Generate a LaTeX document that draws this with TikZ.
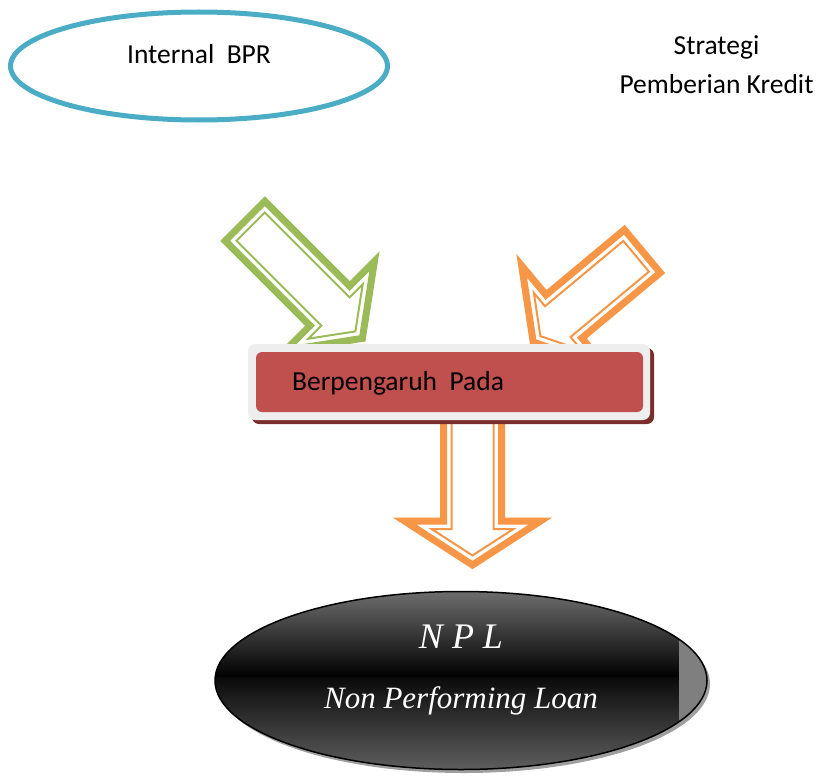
\documentclass[tikz,border=0pt]{standalone}
\usepackage{fontspec}
\setmainfont{Carlito}
\newfontfamily\timesf{Liberation Serif}
\usetikzlibrary{shapes.geometric}
\definecolor{tealc}{HTML}{4BACC6}
\definecolor{greenc}{HTML}{9BBB59}
\definecolor{orangec}{HTML}{F79646}
\definecolor{redc}{HTML}{C0504D}
\definecolor{shadowred}{HTML}{7A2E2C}
\definecolor{boxgray}{HTML}{EEEEEE}
\definecolor{nplTop}{HTML}{6E6E6E}
\definecolor{nplMid}{HTML}{0A0A0A}
\definecolor{nplBot}{HTML}{5E5E5E}
\definecolor{nplStrip}{HTML}{7F7F7F}
\newcommand\blkarrow[7]{%
 \begin{scope}[shift={#1},rotate=#2]
  \pgfmathsetmacro\arrTan{#5/#6}
  \pgfmathsetmacro\arrSin{sin(atan(#5/#6))}
  \pgfmathsetmacro\arrTip{#3-8/\arrSin}
  \pgfmathsetmacro\arrBase{#3-#6+8}
  \pgfmathsetmacro\arrHi{(\arrTip-\arrBase)*\arrTan}
  \pgfmathsetmacro\arrWi{#4-8}
  \draw[line width=7,#7,fill=white,line join=miter] (0,-#4) -- (#3-#6,-#4) -- (#3-#6,-#5) -- (#3,0) -- (#3-#6,#5) -- (#3-#6,#4) -- (0,#4) -- cycle;
  \draw[line width=2,#7,line join=miter] (8,-\arrWi) -- (\arrBase,-\arrWi) -- (\arrBase,-\arrHi) -- (\arrTip,0) -- (\arrBase,\arrHi) -- (\arrBase,\arrWi) -- (8,\arrWi) -- cycle;
 \end{scope}}
\tikzset{
  calfont/.style={font=\fontsize{27.5}{33}\selectfont},
  npltext/.style={text=white, anchor=base}
}
\begin{document}
\begin{tikzpicture}[x=1pt,y=-1pt]
\useasboundingbox (0,0) rectangle (817,776);
% Internal BPR ellipse
\node[ellipse, draw=tealc, line width=5, minimum width=377, minimum height=108, inner sep=0] (internal) at (199,66) {};
\node[calfont, anchor=base] (inttxt) at (199,64) {Internal\ \ BPR};
% Strategi text
\node[calfont, anchor=base] (strat1) at (716.5,55) {Strategi};
\node[calfont, anchor=base] (strat2) at (716.5,93) {Pemberian Kredit};
% arrows
\blkarrow{(245,221)}{-45}{166}{28}{63}{46}{greenc}
\blkarrow{(642.3,251.2)}{-140.2}{142}{28}{66}{40}{orangec}
\blkarrow{(472.5,410)}{-90}{155}{29}{68}{44}{orangec}
% box
\fill[shadowred, rounded corners=7] (252,348) rectangle (654,424);
\node[fill=boxgray, rounded corners=7, minimum width=402, minimum height=76, inner sep=0] (boxout) at (449,382) {};
\node[fill=redc, rounded corners=6, minimum width=387, minimum height=60, inner sep=0] (box) at (449.5,382) {};
\node[calfont, anchor=base west, inner sep=0] (boxtxt) at (292,390) {Berpengaruh\ \ Pada};
% NPL ellipse
\fill[gray!75] (464,684) ellipse [x radius=246, y radius=89];
\begin{scope}
\clip (461,680.5) ellipse [x radius=246, y radius=89];
\shade[top color=nplTop, bottom color=black] (214,591) rectangle (708,677);
\shade[top color=nplMid, bottom color=nplBot] (214,677) rectangle (708,770);
\fill[nplStrip] (679,633) rectangle (710,720);
\end{scope}
\draw[black, line width=1.5] (461,680.5) ellipse [x radius=246, y radius=89];
\node[npltext, font=\timesf\itshape\fontsize{36}{40}\selectfont] (npl) at (461,648) {N P L};
\node[npltext, font=\timesf\itshape\fontsize{31}{36}\selectfont] (npllong) at (461,708) {Non Performing Loan};
\end{tikzpicture}
\end{document}
